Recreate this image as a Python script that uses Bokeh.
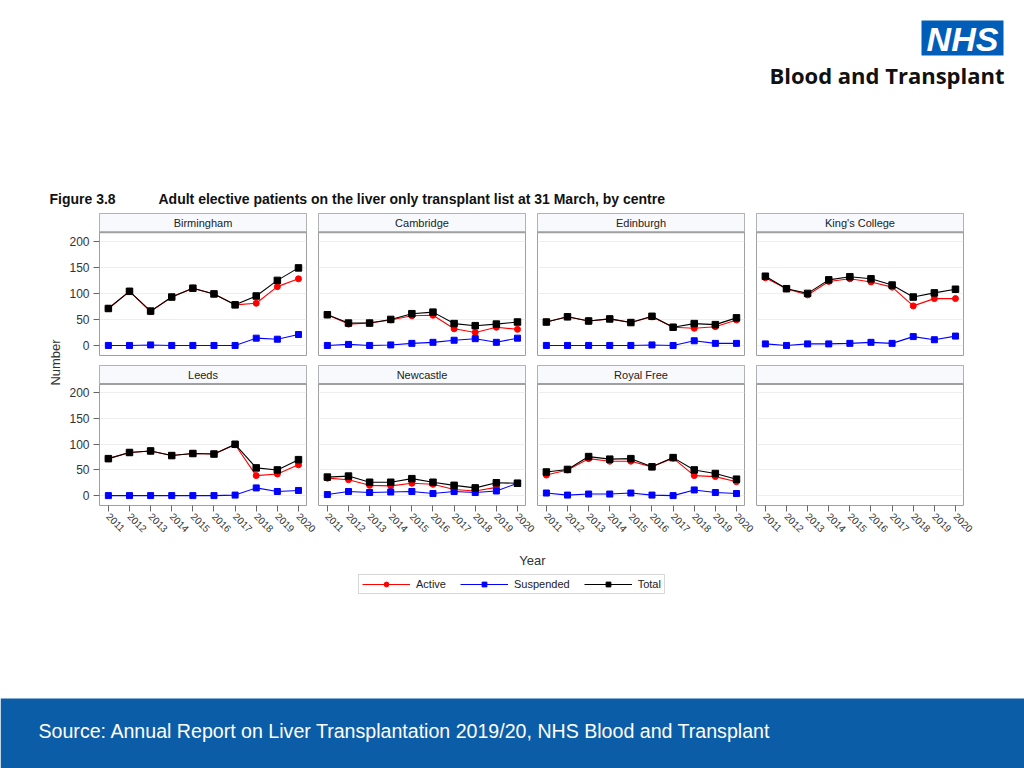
import math
from bokeh.plotting import figure
from bokeh.layouts import row, column
from bokeh.models import (Range1d, LinearAxis, FixedTicker, Grid, BoxAnnotation, Span,
                          Legend, LegendItem, ColumnDataSource)
from bokeh.core.properties import value
from bokeh.embed import file_html
from bokeh.resources import INLINE

NAN = float("nan")

# ---------------- data ----------------
years = [2011, 2012, 2013, 2014, 2015, 2016, 2017, 2018, 2019, 2020]
centres = ["Birmingham", "Cambridge", "Edinburgh", "King's College",
           "Leeds", "Newcastle", "Royal Free", ""]
y_ticks = [0, 50, 100, 150, 200]
series_names = ["Active", "Suspended", "Total"]

birmingham_active = [71, 104, 65, 93, 110, 99, 78, 81, 113, 128]
birmingham_suspended = [0, 0, 1, 0, 0, 0, 0, 14, 12, 21]
birmingham_total = [71, 104, 66, 93, 110, 99, 78, 95, 125, 149]

cambridge_active = [59, 41, 43, 49, 57, 58, 32, 25, 35, 31]
cambridge_suspended = [0, 2, 0, 1, 4, 6, 10, 13, 6, 14]
cambridge_total = [59, 43, 43, 50, 61, 64, 42, 38, 41, 45]

edinburgh_active = [45, 55, 47, 51, 44, 55, 35, 33, 36, 49]
edinburgh_suspended = [0, 0, 0, 0, 0, 1, 0, 9, 4, 4]
edinburgh_total = [45, 55, 47, 51, 44, 56, 35, 42, 40, 53]

kings_active = [130, 109, 97, 123, 128, 122, 112, 76, 90, 90]
kings_suspended = [3, 0, 3, 3, 4, 6, 4, 17, 11, 18]
kings_total = [133, 109, 100, 126, 132, 128, 116, 93, 101, 108]

leeds_active = [72, 84, 87, 78, 82, 81, 99, 39, 42, 60]
leeds_suspended = [0, 0, 0, 0, 0, 0, 1, 15, 8, 10]
leeds_total = [72, 84, 87, 78, 82, 81, 100, 54, 50, 70]

newcastle_active = [34, 31, 20, 19, 24, 22, 12, 9, 16, NAN]
newcastle_suspended = [2, 8, 6, 7, 8, 4, 8, 6, 9, 24]
newcastle_total = [36, 38, 26, 26, 33, 26, 20, 15, 25, 24]

royalfree_active = [40, 50, 72, 67, 67, 56, 73, 39, 37, 27]
royalfree_suspended = [5, 1, 3, 3, 5, 1, 0, 11, 6, 4]
royalfree_total = [46, 51, 76, 71, 72, 56, 74, 50, 43, 32]

active_series = [birmingham_active, cambridge_active, edinburgh_active, kings_active,
                 leeds_active, newcastle_active, royalfree_active, None]
suspended_series = [birmingham_suspended, cambridge_suspended, edinburgh_suspended, kings_suspended,
                    leeds_suspended, newcastle_suspended, royalfree_suspended, None]
total_series = [birmingham_total, cambridge_total, edinburgh_total, kings_total,
                leeds_total, newcastle_total, royalfree_total, None]

# ---------------- styling ----------------
FONT = "Liberation Sans"
RED = "#ff0000"
BLUE = "#0000ff"
BLACK = "#000000"
STRIP_FILL = "#f7f9fc"
BORDER = "#a0a0a0"
BANNER = "#0c5da8"
NHS_BLUE = "#005eb8"


def blank_fig(w, h):
    p = figure(width=w, height=h, x_range=Range1d(0, w), y_range=Range1d(h, 0),
               x_axis_location=None, y_axis_location=None, toolbar_location=None,
               output_backend="svg", min_border=0, title=None)
    p.outline_line_color = None
    p.grid.visible = False
    p.background_fill_color = "white"
    p.border_fill_color = "white"
    return p


def put_text(p, x, y, txt, size, color="#222222", align="left", style="normal",
             font=FONT, angle=0.0):
    p.text(x=[x], y=[y], text=[txt], text_font=value(font), text_font_size=size,
           text_color=color, text_align=align, text_baseline="middle",
           text_font_style=style, angle=angle)


# ---------------- header (page y 0..213) ----------------
header = blank_fig(1024, 213)
header.quad(left=[921], right=[1003], top=[20], bottom=[55], fill_color=NHS_BLUE, line_color=None)
put_text(header, 962, 38, "NHS", "34px", color="white", align="center", style="bold italic")
put_text(header, 1004, 74, "Blood and Transplant", "22px", color="#111111", align="right",
         style="bold", font="Open Sans")
put_text(header, 49, 198, "Figure 3.8", "14px", color="#111111", style="bold")
put_text(header, 158, 198,
         "Adult elective patients on the liver only transplant list at 31 March, by centre",
         "14px", color="#111111", style="bold")

# ---------------- y label (page x 0..64, y 213..550) ----------------
label_fig = blank_fig(64, 337)
put_text(label_fig, 55, 149, "Number", "13px", color="#333333", align="center",
         angle=math.pi / 2)

# ---------------- panels ----------------
X0, X1 = 2010.58, 2020.38
Y0, Y1 = -19.3, 253.5
STRIP_BOTTOM = 217.4
FRAME_W = 207
GAP = 12


def make_panel(idx):
    col = idx % 4
    rowi = idx // 4
    left_b = 35 if col == 0 else 0
    right_b = GAP if col < 3 else 1024 - 64 - (35 + 3 * (FRAME_W + GAP)) - FRAME_W
    bottom_b = 10 if rowi == 0 else 45
    w = left_b + FRAME_W + right_b
    h = (142 if rowi == 0 else 140) + bottom_b
    p = figure(width=w, height=h, x_range=Range1d(X0, X1), y_range=Range1d(Y0, Y1),
               x_axis_location=None, y_axis_location=None, toolbar_location=None,
               output_backend="svg", title=None,
               min_border_left=left_b, min_border_right=right_b,
               min_border_top=0, min_border_bottom=bottom_b)
    p.grid.visible = False
    p.outline_line_color = BORDER
    p.outline_line_width = 1
    p.background_fill_color = "white"
    p.border_fill_color = "white"

    p.add_layout(Grid(dimension=1, ticker=FixedTicker(ticks=y_ticks),
                      grid_line_color="#eeeeee", grid_line_width=1), "center")

    if col == 0:
        yax = LinearAxis(ticker=FixedTicker(ticks=y_ticks))
        yax.axis_line_color = None
        yax.major_tick_in = 0
        yax.major_tick_out = 6
        yax.major_tick_line_color = "#666666"
        yax.minor_tick_line_color = None
        yax.major_label_text_font = FONT
        yax.major_label_text_font_size = "12px"
        yax.major_label_text_color = "#333333"
        yax.major_label_standoff = 4
        p.add_layout(yax, "left")

    if rowi == 1:
        xax = LinearAxis(ticker=FixedTicker(ticks=years))
        xax.axis_line_color = None
        xax.major_tick_in = 0
        xax.major_tick_out = 6
        xax.major_tick_line_color = "#666666"
        xax.minor_tick_line_color = None
        xax.major_label_text_font = FONT
        xax.major_label_text_font_size = "10px"
        xax.major_label_text_color = "#333333"
        xax.major_label_orientation = -math.pi / 4
        xax.major_label_standoff = 3
        p.add_layout(xax, "below")

    # strip header
    p.add_layout(BoxAnnotation(bottom=STRIP_BOTTOM, fill_color=STRIP_FILL, fill_alpha=1,
                               line_color=BORDER, line_width=1, level="underlay"))
    p.add_layout(Span(location=STRIP_BOTTOM, dimension="width", line_color=BORDER,
                      line_width=2, level="underlay"))
    name = centres[idx]
    if name:
        p.text(x=[(X0 + X1) / 2], y=[(STRIP_BOTTOM + Y1) / 2], text=[name],
               text_font=value(FONT), text_font_size="11px", text_color="#222222",
               text_align="center", text_baseline="middle")

    a = active_series[idx]
    s = suspended_series[idx]
    t = total_series[idx]
    if a is not None:
        p.line(years, a, line_color=RED, line_width=1.1)
        p.scatter(years, a, marker="circle", size=6, fill_color=RED, line_color=RED)
        p.line(years, s, line_color=BLUE, line_width=1.1)
        p.scatter(years, s, marker="square", size=6, fill_color=BLUE, line_color=BLUE)
        p.line(years, t, line_color=BLACK, line_width=1.1)
        p.scatter(years, t, marker="square", size=6.5, fill_color=BLACK, line_color=BLACK)
    return p


panels = [make_panel(i) for i in range(8)]
grid_col = column(row(*panels[:4], spacing=0), row(*panels[4:], spacing=0), spacing=0)
middle = row(label_fig, grid_col, spacing=0)

# ---------------- bottom (page y 550..768): axis title, legend, banner ----------------
bottom = blank_fig(1024, 218)
put_text(bottom, 532, 10, "Year", "13px", color="#333333", align="center")
bottom.quad(left=[0], right=[1024], top=[148], bottom=[218], fill_color=BANNER, line_color=None)
put_text(bottom, 38, 180,
         "Source: Annual Report on Liver Transplantation 2019/20, NHS Blood and Transplant",
         "19.6px", color="white")

# legend key renderers: a single point placed outside the visible range
offscreen = ColumnDataSource(dict(x=[-500], y=[-500]))
la = bottom.line("x", "y", source=offscreen, line_color=RED, line_width=1.2)
sa = bottom.scatter("x", "y", source=offscreen, marker="circle", size=7, fill_color=RED, line_color=RED)
ls = bottom.line("x", "y", source=offscreen, line_color=BLUE, line_width=1.2)
ss = bottom.scatter("x", "y", source=offscreen, marker="square", size=7, fill_color=BLUE, line_color=BLUE)
lt = bottom.line("x", "y", source=offscreen, line_color=BLACK, line_width=1.2)
st = bottom.scatter("x", "y", source=offscreen, marker="square", size=7, fill_color=BLACK, line_color=BLACK)

legend = Legend(items=[LegendItem(label=series_names[0], renderers=[la, sa]),
                       LegendItem(label=series_names[1], renderers=[ls, ss]),
                       LegendItem(label=series_names[2], renderers=[lt, st])],
                location=(358, 174), orientation="horizontal")
legend.glyph_width = 48
legend.glyph_height = 12
legend.label_text_font = FONT
legend.label_text_font_size = "11px"
legend.label_text_color = "#222222"
legend.label_standoff = 6
legend.spacing = 14
legend.padding = 3
legend.margin = 0
legend.border_line_color = "#b0b0b0"
legend.background_fill_color = "white"
legend.background_fill_alpha = 1
bottom.add_layout(legend, "center")

page = column(header, middle, bottom, spacing=0)

open("out.html", "w").write(file_html(page, INLINE))
